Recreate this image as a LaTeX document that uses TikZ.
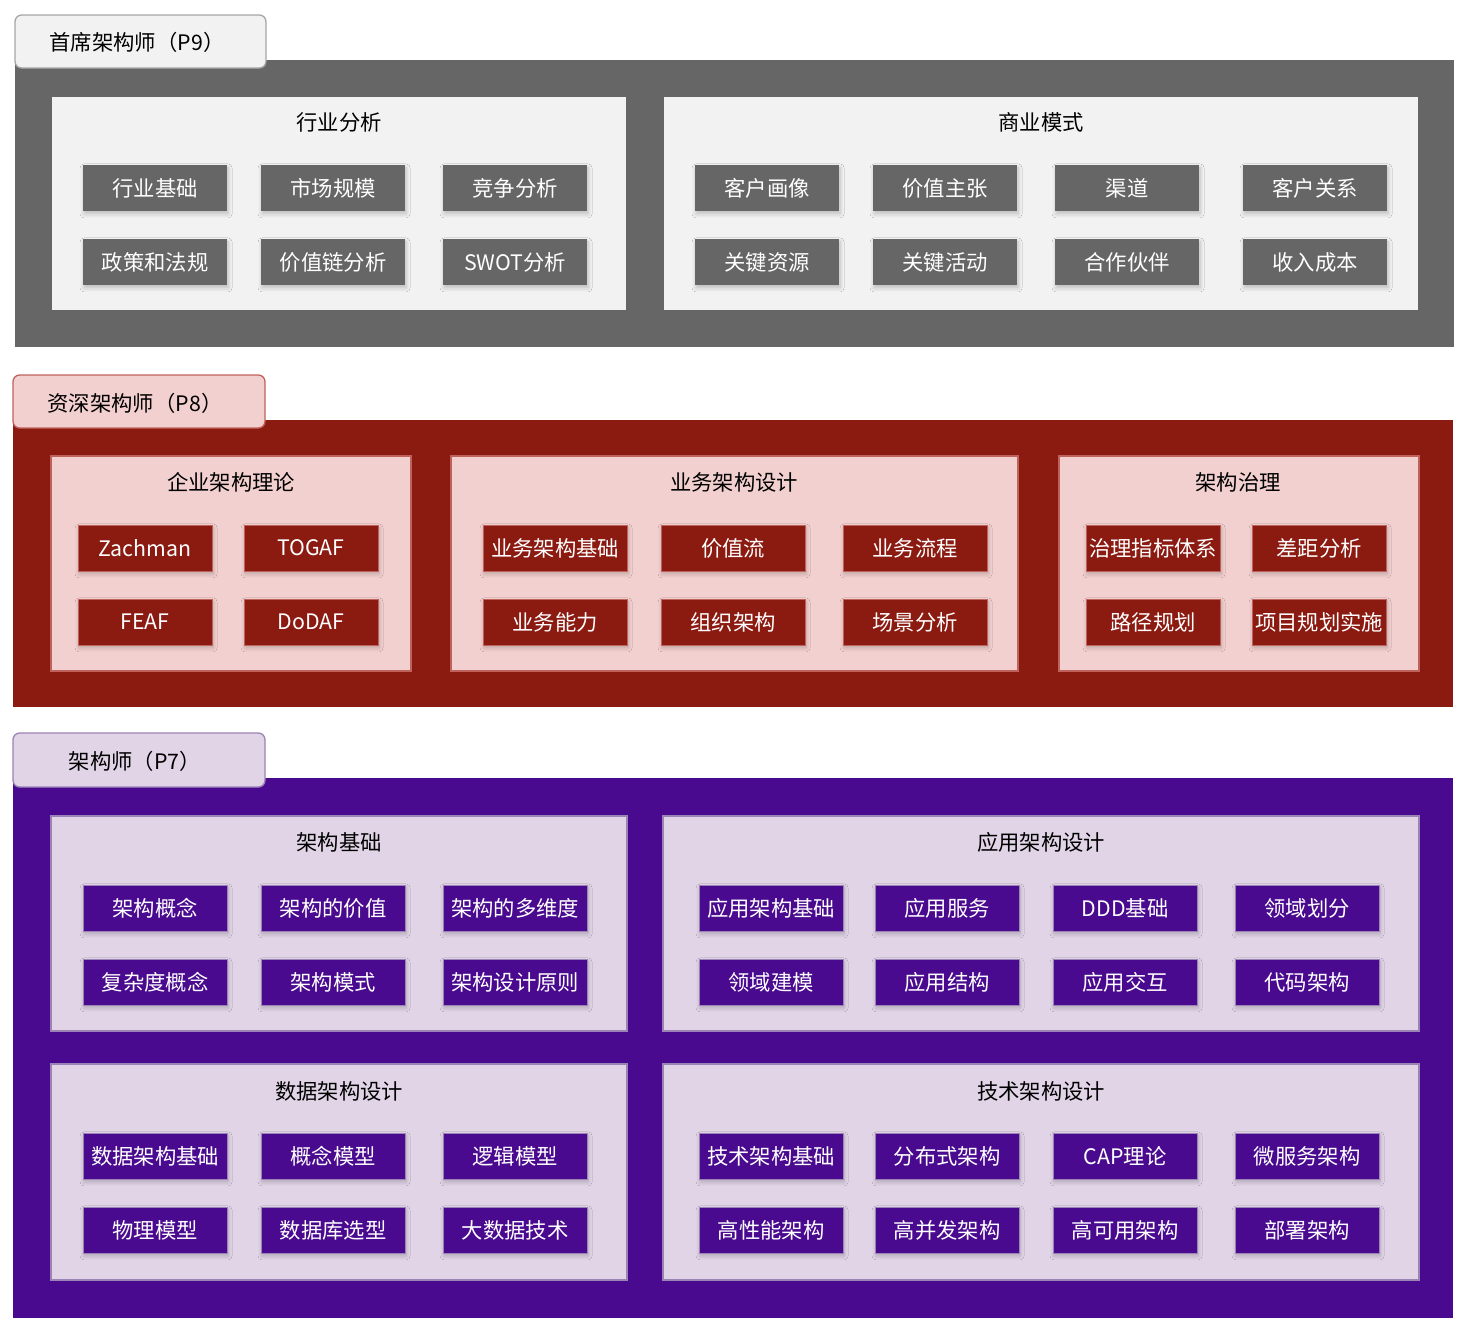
\documentclass[tikz,border=0pt]{standalone}
\usepackage{fontspec}
\setmainfont{Noto Sans CJK SC}
\usetikzlibrary{shadows.blur}
\definecolor{gband}{HTML}{666666}
\definecolor{gpanel}{HTML}{F2F2F2}
\definecolor{gtabline}{HTML}{A6A6A6}
\definecolor{rband}{HTML}{8B1A11}
\definecolor{rpanel}{HTML}{F2D0CF}
\definecolor{rline}{HTML}{C0625C}
\definecolor{pband}{HTML}{4A0A8F}
\definecolor{ppanel}{HTML}{E0D4E6}
\definecolor{pline}{HTML}{9B83B6}
\tikzset{
  px/.style={x=0.75pt,y=-0.75pt},
  tabbox/.style={rounded corners=5pt,line width=1pt},
  ptitle/.style={font=\fontsize{16}{19}\selectfont,text=black,inner sep=0pt},
  cell/.style={minimum width=#1*0.75pt,minimum height=34.5pt,inner sep=0pt,
    text=white,font=\fontsize{16}{19}\selectfont,
    blur shadow={shadow xshift=0.8pt,shadow yshift=-2.2pt,shadow blur steps=8,shadow opacity=22,shadow blur radius=3pt}},
  gcell/.style={cell=#1,fill=gband},
  rcell/.style={cell=#1,fill=rband,draw=rline,line width=0.6pt},
  pcell/.style={cell=#1,fill=pband,draw=pline,line width=0.6pt},
}
\begin{document}
\begin{tikzpicture}[px]
\useasboundingbox (0,0) rectangle (1472,1328);
% ---------- P9 ----------
\fill[gband] (15,60) rectangle (1454,347);
\draw[tabbox,fill=gpanel,draw=gtabline] (15,15) rectangle (266,68);
\node[ptitle] (t9) at (137,42) {首席架构师（P9）};
\fill[gpanel] (52,97) rectangle (626,310);
\fill[gpanel] (664,97) rectangle (1418,310);
\node[ptitle] (h1) at (339,122) {行业分析};
\node[ptitle] (h2) at (1041,122) {商业模式};
\node[gcell=144] (a1) at (155,188) {行业基础};
\node[gcell=144] (a2) at (333,188) {市场规模};
\node[gcell=144] (a3) at (515,188) {竞争分析};
\node[gcell=144] (a4) at (155,262) {政策和法规};
\node[gcell=144] (a5) at (333,262) {价值链分析};
\node[gcell=144] (a6) at (515,262) {SWOT分析};
\node[gcell=144] (b1) at (767,188) {客户画像};
\node[gcell=144] (b2) at (945,188) {价值主张};
\node[gcell=144] (b3) at (1127,188) {渠道};
\node[gcell=144] (b4) at (1315,188) {客户关系};
\node[gcell=144] (b5) at (767,262) {关键资源};
\node[gcell=144] (b6) at (945,262) {关键活动};
\node[gcell=144] (b7) at (1127,262) {合作伙伴};
\node[gcell=144] (b8) at (1315,262) {收入成本};
% ---------- P8 ----------
\fill[rband] (13,420) rectangle (1453,707);
\draw[tabbox,fill=rpanel,draw=rline] (13,375) rectangle (265,428);
\node[ptitle] (t8) at (135,403) {资深架构师（P8）};
\draw[fill=rpanel,draw=rline,line width=1pt] (51,456) rectangle (411,671);
\draw[fill=rpanel,draw=rline,line width=1pt] (451,456) rectangle (1018,671);
\draw[fill=rpanel,draw=rline,line width=1pt] (1059,456) rectangle (1419,671);
\node[ptitle] (h3) at (231,482) {企业架构理论};
\node[ptitle] (h4) at (734,482) {业务架构设计};
\node[ptitle] (h5) at (1238,482) {架构治理};
\node[rcell=134] (c1) at (145,548) {Zachman};
\node[rcell=134] (c2) at (311,548) {TOGAF};
\node[rcell=134] (c3) at (145,622) {FEAF};
\node[rcell=134] (c4) at (311,622) {DoDAF};
\node[rcell=144] (d1) at (555,548) {业务架构基础};
\node[rcell=144] (d2) at (733,548) {价值流};
\node[rcell=144] (d3) at (915,548) {业务流程};
\node[rcell=144] (d4) at (555,622) {业务能力};
\node[rcell=144] (d5) at (733,622) {组织架构};
\node[rcell=144] (d6) at (915,622) {场景分析};
\node[rcell=134] (e1) at (1153,548) {治理指标体系};
\node[rcell=134] (e2) at (1319,548) {差距分析};
\node[rcell=134] (e3) at (1153,622) {路径规划};
\node[rcell=134] (e4) at (1319,622) {项目规划实施};
% ---------- P7 ----------
\fill[pband] (13,778) rectangle (1453,1318);
\draw[tabbox,fill=ppanel,draw=pline] (13,733) rectangle (265,787);
\node[ptitle] (t7) at (135,761) {架构师（P7）};
\draw[fill=ppanel,draw=pline,line width=1pt] (51,816) rectangle (627,1031);
\draw[fill=ppanel,draw=pline,line width=1pt] (663,816) rectangle (1419,1031);
\draw[fill=ppanel,draw=pline,line width=1pt] (51,1064) rectangle (627,1280);
\draw[fill=ppanel,draw=pline,line width=1pt] (663,1064) rectangle (1419,1280);
\node[ptitle] (h6) at (339,842) {架构基础};
\node[ptitle] (h7) at (1041,842) {应用架构设计};
\node[ptitle] (h8) at (339,1091) {数据架构设计};
\node[ptitle] (h9) at (1041,1091) {技术架构设计};
\node[pcell=144] (f1) at (155,908) {架构概念};
\node[pcell=144] (f2) at (333,908) {架构的价值};
\node[pcell=144] (f3) at (515,908) {架构的多维度};
\node[pcell=144] (f4) at (155,982) {复杂度概念};
\node[pcell=144] (f5) at (333,982) {架构模式};
\node[pcell=144] (f6) at (515,982) {架构设计原则};
\node[pcell=144] (g1) at (771,908) {应用架构基础};
\node[pcell=144] (g2) at (947,908) {应用服务};
\node[pcell=144] (g3) at (1125,908) {DDD基础};
\node[pcell=144] (g4) at (1307,908) {领域划分};
\node[pcell=144] (g5) at (771,982) {领域建模};
\node[pcell=144] (g6) at (947,982) {应用结构};
\node[pcell=144] (g7) at (1125,982) {应用交互};
\node[pcell=144] (g8) at (1307,982) {代码架构};
\node[pcell=144] (k1) at (155,1156) {数据架构基础};
\node[pcell=144] (k2) at (333,1156) {概念模型};
\node[pcell=144] (k3) at (515,1156) {逻辑模型};
\node[pcell=144] (k4) at (155,1230) {物理模型};
\node[pcell=144] (k5) at (333,1230) {数据库选型};
\node[pcell=144] (k6) at (515,1230) {大数据技术};
\node[pcell=144] (m1) at (771,1156) {技术架构基础};
\node[pcell=144] (m2) at (947,1156) {分布式架构};
\node[pcell=144] (m3) at (1125,1156) {CAP理论};
\node[pcell=144] (m4) at (1307,1156) {微服务架构};
\node[pcell=144] (m5) at (771,1230) {高性能架构};
\node[pcell=144] (m6) at (947,1230) {高并发架构};
\node[pcell=144] (m7) at (1125,1230) {高可用架构};
\node[pcell=144] (m8) at (1307,1230) {部署架构};
\end{tikzpicture}
\end{document}
